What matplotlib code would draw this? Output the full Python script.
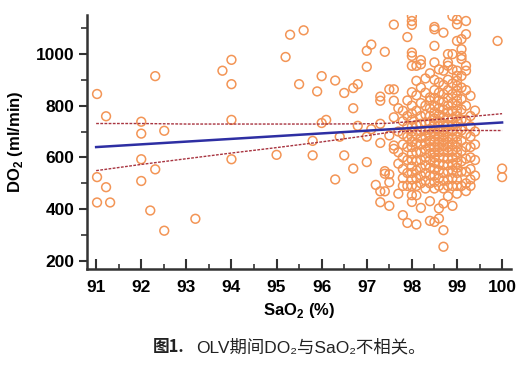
import matplotlib
matplotlib.use("Agg")
import matplotlib.pyplot as plt
from matplotlib.ticker import MultipleLocator
import numpy as np

# scattered points away from the main cluster (SaO2 %, DO2 ml/min)
sparse_x = [91.02, 91.22, 92.0, 92.0, 92.51, 92.31, 92.0, 92.31, 92.0, 91.02, 91.22, 91.02, 91.31,
            92.2, 92.51, 93.2, 93.8, 94.0, 94.0, 94.0, 94.0,
            95.3, 95.6, 95.2, 95.5, 96.0, 95.9, 96.3, 96.5, 96.7, 96.8, 96.7, 97.1, 97.0, 97.4,
            97.0, 97.6, 96.0, 96.1, 96.8, 96.4, 97.1, 97.0, 95.8, 95.0, 95.8, 96.5, 97.3, 97.0,
            96.7, 96.3, 97.2, 97.4, 97.4, 97.5, 97.5, 97.3, 97.4, 97.3, 97.5, 97.3, 97.3, 97.5,
            97.6, 97.6, 97.6, 97.3, 97.5, 97.6, 97.6, 99.9, 100.0, 100.0]
sparse_y = [845, 759, 738, 692, 703, 914, 593, 554, 509, 524, 485, 426, 426,
            395, 317, 363, 935, 977, 883, 745, 593,
            1074, 1091, 988, 883, 914, 855, 897, 849, 868, 883, 790, 1036, 1012, 1008,
            950, 1113, 733, 745, 722, 680, 709, 680, 664, 610, 608, 608, 656, 582,
            557, 515, 494, 547, 537, 535, 504, 469, 469, 427, 413, 819, 835, 863,
            863, 819, 755, 730, 685, 646, 633, 1050, 557, 524]

# main cluster, one column of DO2 values per SaO2 reading
cluster_x = [97.7, 97.8, 97.9, 98.0, 98.1, 98.2, 98.3, 98.4, 98.5, 98.6, 98.7, 98.8, 98.9,
             99.0, 99.1, 99.2, 99.3, 99.4]
cluster_y = [
    [790, 700, 620, 576, 460],
    [780, 740, 690, 650, 600, 555, 520, 490, 377],
    [1065, 820, 760, 720, 680, 640, 590, 540, 490, 347],
    [1146, 1127, 1112, 1005, 992, 954, 852, 800, 770, 745, 720, 700, 680, 660, 640, 615, 590,
     565, 540, 515, 490, 454, 428],
    [954, 896, 840, 780, 725, 690, 655, 620, 585, 550, 520, 490, 454, 341],
    [976, 960, 870, 810, 760, 730, 700, 675, 650, 620, 590, 560, 530, 500, 405],
    [905, 850, 800, 765, 735, 705, 680, 655, 630, 600, 570, 540, 510, 480],
    [925, 832, 819, 790, 760, 735, 710, 690, 665, 640, 615, 590, 560, 530, 500, 431, 355],
    [1104, 1095, 1031, 967, 900, 860, 830, 800, 775, 750, 725, 700, 680, 660, 640, 620, 600,
     580, 555, 530, 505, 480, 351],
    [940, 890, 850, 820, 790, 765, 740, 720, 700, 680, 660, 640, 620, 600, 575, 550, 520, 490,
     403, 364],
    [1082, 935, 880, 845, 815, 785, 755, 730, 705, 685, 665, 645, 625, 600, 570, 540, 510, 480,
     422, 319, 255],
    [999, 967, 954, 900, 860, 830, 800, 775, 750, 725, 700, 680, 660, 640, 620, 595, 570, 545,
     515, 490, 450],
    [1146, 999, 940, 885, 845, 810, 780, 750, 725, 700, 675, 650, 625, 600, 575, 550, 520, 490,
     413],
    [1133, 1114, 1050, 935, 915, 896, 877, 858, 838, 819, 800, 780, 760, 740, 720, 700, 680, 660,
     640, 620, 600, 580, 560, 540, 515, 490, 460],
    [1057, 1018, 992, 980, 915, 870, 825, 785, 745, 705, 665, 625, 585, 545, 490],
    [1127, 1076, 954, 935, 860, 800, 745, 690, 640, 595, 545, 500, 470],
    [838, 760, 720, 680, 640, 600, 555, 515, 490],
    [781, 700, 650, 590, 530],
]

# regression line and confidence band
fit_x = [91, 100]
fit_y = [640, 735]
band_x = [91, 92, 93, 94, 95, 96, 97, 97.5, 98, 99, 100]
band_lo = [549, 573, 595, 617, 638, 660, 684, 697, 702, 704, 704]
band_hi = [731, 731, 729, 729, 729, 729, 730, 732, 739, 753, 769]

xticks = [91, 92, 93, 94, 95, 96, 97, 98, 99, 100]
yticks = [200, 400, 600, 800, 1000]

plt.rcParams['mathtext.fontset'] = 'custom'
plt.rcParams['mathtext.rm'] = 'Liberation Sans'
plt.rcParams['mathtext.bf'] = 'Liberation Sans:bold'
plt.rcParams['font.family'] = ['Liberation Sans', 'Noto Sans CJK SC']

fig = plt.figure(figsize=(5.28, 3.67), dpi=100)
ax = fig.add_axes([0.165, 0.267, 0.803, 0.692])

xs = list(sparse_x)
ys = list(sparse_y)
for cx, col in zip(cluster_x, cluster_y):
    xs += [cx] * len(col)
    ys += col

ax.scatter(xs, ys, s=40, facecolors='none', edgecolors='#f39556', linewidths=1.1, zorder=2)
ax.plot(fit_x, fit_y, color='#2e2fa3', lw=1.8, zorder=3)
ax.plot(band_x, band_lo, color='#a83440', lw=1.0, ls=(0, (2, 1)), zorder=3)
ax.plot(band_x, band_hi, color='#a83440', lw=1.0, ls=(0, (2, 1)), zorder=3)

ax.set_xlim(90.8, 100.2)
ax.set_ylim(169, 1150)
ax.set_xticks(xticks)
ax.set_yticks(yticks)
ax.xaxis.set_minor_locator(MultipleLocator(0.5))
ax.yaxis.set_minor_locator(MultipleLocator(100))

for s in ['top', 'right']:
    ax.spines[s].set_visible(False)
for s in ['left', 'bottom']:
    ax.spines[s].set_color('#333333')
    ax.spines[s].set_linewidth(1.8)

ax.tick_params(axis='x', which='major', direction='in', length=7, width=1.5, color='#333333', pad=8)
ax.tick_params(axis='x', which='minor', direction='in', length=3.5, width=1.2, color='#333333')
ax.tick_params(axis='y', which='major', direction='out', length=6, width=1.5, color='#333333', pad=3)
ax.tick_params(axis='y', which='minor', direction='out', length=4, width=1.2, color='#333333')
for lab in ax.get_xticklabels() + ax.get_yticklabels():
    lab.set_fontsize(12.5)
    lab.set_fontweight('bold')

ax.set_xlabel(r'SaO$_\mathbf{2}$ (%)', fontsize=12, fontweight='bold', labelpad=4)
ax.set_ylabel(r'DO$_\mathbf{2}$ (ml/min)', fontsize=12, fontweight='bold', labelpad=8)

cap_font = ['Liberation Sans', 'Noto Sans CJK SC']
fig.text(0.289, 0.055, '图1.', fontsize=12, fontweight='bold', color='#222222', va='center',
         family=['Noto Sans CJK SC'])
fig.text(0.372, 0.055, 'OLV期间DO₂与SaO₂不相关。', fontsize=12.5, color='#222222', va='center',
         family=cap_font)

plt.savefig('out.png', dpi=100)
